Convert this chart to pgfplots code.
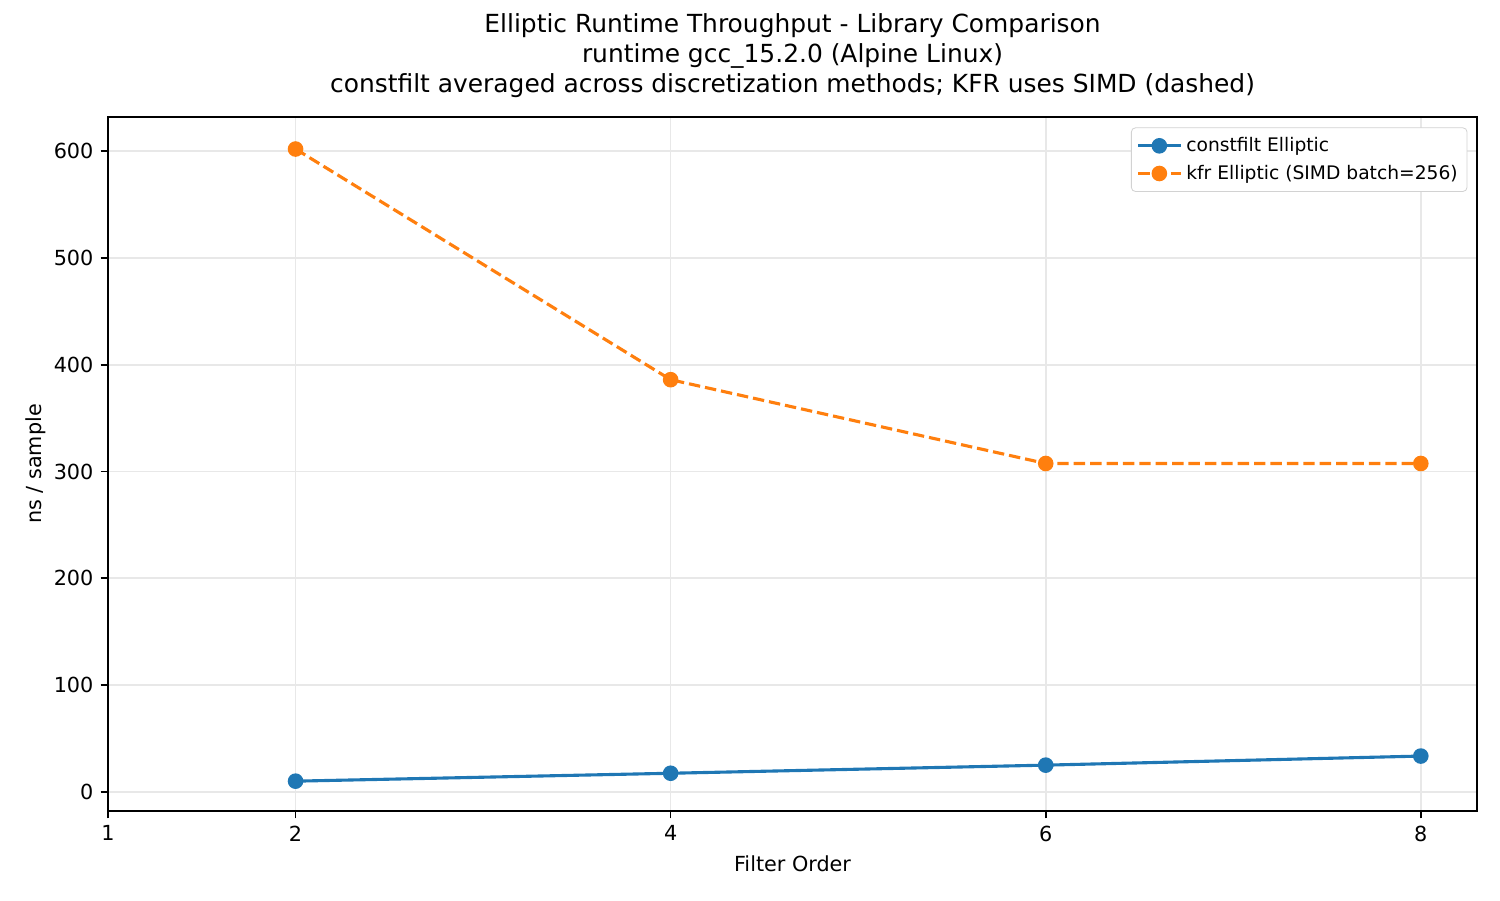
\documentclass[border=0pt]{standalone}
\usepackage{pgfplots}
\pgfplotsset{compat=1.18}
\usepackage{fontspec}
\setmainfont{DejaVu Sans}
\definecolor{mplblue}{HTML}{1F77B4}
\definecolor{mplorange}{HTML}{FF7F0E}
\begin{document}
\begin{tikzpicture}
\begin{axis}[
  name=ax,
  scale only axis,
  width=9.127in, height=4.627in,
  xmin=1, xmax=8.3,
  ymin=-18, ymax=632,
  xtick={1,2,4,6,8},
  ytick={0,100,...,600},
  tick pos=left,
  tick align=outside,
  major tick length=3.5pt,
  /pgf/number format/assume math mode=true,
  tick label style={font=\fontsize{10}{12}\selectfont, black},
  label style={font=\fontsize{10}{12}\selectfont},
  xlabel={Filter Order},
  ylabel={ns / sample},
  ylabel shift=-3pt,
  grid=major,
  major grid style={gray!18, line width=0.8pt},
  axis line style={line width=0.8pt},
  every tick/.style={black, line width=0.8pt},
  legend cell align=left,
  legend image code/.code={%
    \draw[mark repeat=2, mark phase=2, #1]
      plot coordinates {(0cm,0cm) (0.36cm,0cm) (0.72cm,0cm)};},
  legend style={at={(0.993,0.985)}, anchor=north east, draw=gray!35,
    rounded corners=2pt, font=\fontsize{9}{11.5}\selectfont,
    inner sep=2.5pt, row sep=1pt},
]
\addplot[mplblue, line width=1.5pt, mark=*, mark size=3pt,
  mark options={solid, fill=mplblue, draw=mplblue}]
  coordinates {(2,10.0) (4,17.4) (6,25.0) (8,33.5)};
\addlegendentry{constfilt Elliptic}
\addplot[mplorange, line width=1.5pt, dashed, dash pattern=on 5.5pt off 2.4pt,
  mark=*, mark size=3pt, mark options={solid, fill=mplorange, draw=mplorange}]
  coordinates {(2,602) (4,386) (6,307.5) (8,307.5)};
\addlegendentry{kfr Elliptic (SIMD batch=256)}
\end{axis}
\node[anchor=south, align=center, font=\fontsize{12}{14.4}\selectfont, yshift=6pt]
  at (ax.north) {Elliptic Runtime Throughput - Library Comparison\\
  runtime gcc\_15.2.0 (Alpine Linux)\\
  constfilt averaged across discretization methods; KFR uses SIMD (dashed)};
\path[use as bounding box] ([xshift=-0.72in, yshift=-0.593in]ax.south west)
  rectangle ([xshift=0.153in, yshift=0.78in]ax.north east);
\end{tikzpicture}
\end{document}
